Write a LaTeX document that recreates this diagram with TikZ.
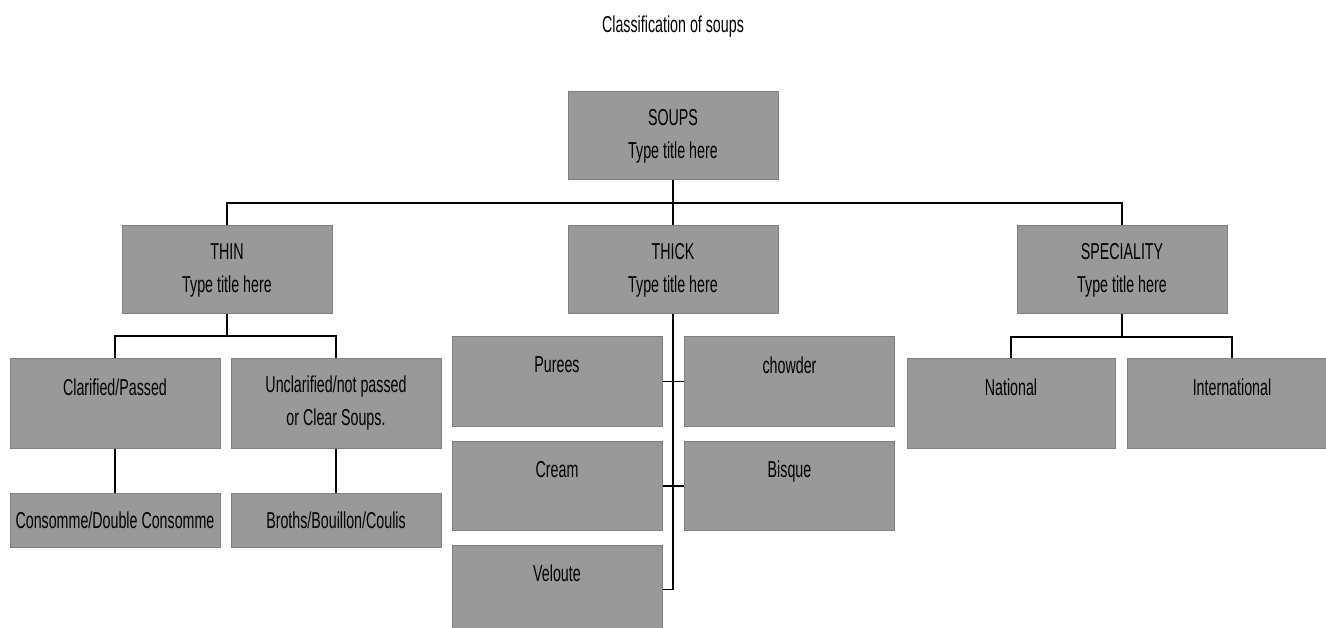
\documentclass[tikz,border=0pt]{standalone}
\usepackage{fontspec}
\setmainfont{Liberation Sans}[FakeStretch=0.62]
\usepackage{tikz}
\usepackage{xcolor}
\usetikzlibrary{positioning,calc}
\definecolor{soupfill}{RGB}{153,153,153}
\definecolor{soupedge}{RGB}{128,128,128}
\begin{document}
\begin{tikzpicture}[x=1pt,y=-1pt, every node/.style={font=\fontsize{23}{33}\selectfont},
  box/.style={draw=soupedge,line width=1pt,fill=soupfill,align=center,inner sep=0pt,minimum width=210pt,minimum height=89pt},
  link/.style={draw=black,line width=1.3pt}]
\fill[white] (0,0) rectangle (1326,628);
\useasboundingbox (0,0) rectangle (1326,628);
\node (title) at (673,27) {Classification of soups};
\node[box,minimum height=88pt] (soups) at (673,136) {SOUPS\\Type title here};
\node[box,minimum height=88pt] (thin) at (227,270) {THIN\\Type title here};
\node[box,minimum height=88pt] (thick) at (673,270) {THICK\\Type title here};
\node[box,minimum height=88pt] (spec) at (1122,270) {SPECIALITY\\Type title here};
\node[box] (clar) at (115,403.5) {Clarified/Passed\\~};
\node[box] (uncl) at (336,403.5) {Unclarified/not passed\\or Clear Soups.};
\node[box,minimum height=54pt] (cons) at (115,520) {Consomme/Double Consomme};
\node[box,minimum height=54pt] (broth) at (336,520) {Broths/Bouillon/Coulis};
\node[box] (pur) at (557,381.5) {Purees\\~};
\node[box] (chow) at (789.5,381.5) {chowder\\~};
\node[box] (cream) at (557,486) {Cream\\~};
\node[box] (bisque) at (789.5,486) {Bisque\\~};
\node[box] (vel) at (557,589.5) {Veloute\\~};
\node[box,minimum width=208pt] (nat) at (1011,403.5) {National\\~};
\node[box] (intl) at (1232,403.5) {International\\~};
\coordinate (bus1) at (673,203);
\coordinate (bus2) at (227,336);
\coordinate (bus3) at (1122,337);
\draw[link] (soups) -- (thick);
\draw[link] (thin.north) |- (bus1) -| (spec.north);
\draw[link] (thin) -- (bus2);
\draw[link] (clar.north) |- (bus2) -| (uncl.north);
\draw[link] (clar) -- (cons);
\draw[link] (uncl) -- (broth);
\draw[link] (thick.south) |- (vel.east);
\draw[link] (pur.east) -- (chow.west);
\draw[link] (cream.east) -- (bisque.west);
\draw[link] (spec) -- (bus3);
\draw[link] (nat.north) |- (bus3) -| (intl.north);
\end{tikzpicture}
\end{document}
